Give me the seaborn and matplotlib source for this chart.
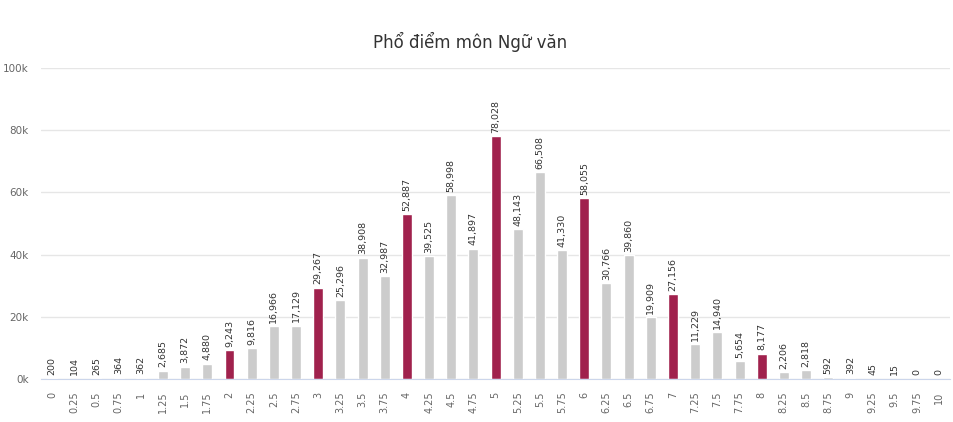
import numpy as np
import pandas as pd
import matplotlib
matplotlib.use("Agg")
import matplotlib.pyplot as plt
import seaborn as sns
from matplotlib.ticker import FuncFormatter

# score buckets and number of candidates
scores = ["0", "0.25", "0.5", "0.75", "1", "1.25", "1.5", "1.75", "2", "2.25",
          "2.5", "2.75", "3", "3.25", "3.5", "3.75", "4", "4.25", "4.5", "4.75",
          "5", "5.25", "5.5", "5.75", "6", "6.25", "6.5", "6.75", "7", "7.25",
          "7.5", "7.75", "8", "8.25", "8.5", "8.75", "9", "9.25", "9.5", "9.75", "10"]
counts = [200, 104, 265, 364, 362, 2685, 3872, 4880, 9243, 9816,
          16966, 17129, 29267, 25296, 38908, 32987, 52887, 39525, 58998, 41897,
          78028, 48143, 66508, 41330, 58055, 30766, 39860, 19909, 27156, 11229,
          14940, 5654, 8177, 2206, 2818, 592, 392, 45, 15, 0, 0]
highlight = ["2", "3", "4", "5", "6", "7", "8"]

df = pd.DataFrame({"score": scores, "count": counts})
colors = ["#a0214d" if s in highlight else "#cccccc" for s in scores]

sns.set_style("white")
plt.rcParams["font.family"] = ["DejaVu Sans"]

fig = plt.figure(figsize=(9.54, 4.22), dpi=100)
ax = fig.add_axes([0.043, 0.102, 0.953, 0.737])

sns.barplot(data=df, x="score", y="count", hue="score", palette=colors,
            legend=False, width=0.45, saturation=1, ax=ax)

# data labels above each bar
for i, v in enumerate(counts):
    ax.annotate(f"{v:,}", (i, v), xytext=(0, 2.5), textcoords="offset points",
                rotation=90, ha="center", va="bottom", fontsize=6.8, color="#333333")

ax.set_xlim(-0.5, len(scores) - 0.5)
ax.set_ylim(0, 100000)
ax.set_yticks(np.arange(0, 100001, 20000))
ax.yaxis.set_major_formatter(FuncFormatter(lambda v, p: f"{int(v / 1000)}k"))
ax.grid(axis="y", color="#e6e6e6", linewidth=1)
ax.set_axisbelow(True)

ax.set_xticks(range(len(scores)))
ax.set_xticklabels(scores, rotation=90, fontsize=7, color="#666666")
ax.set_xticks(np.arange(-0.5, len(scores), 1), minor=True)
ax.tick_params(axis="x", which="major", length=0, pad=9)
ax.tick_params(axis="x", which="minor", length=9, color="#ccd6eb", width=1)
ax.tick_params(axis="y", length=0, pad=9, labelsize=7.5, labelcolor="#666666")

for side in ["top", "right", "left"]:
    ax.spines[side].set_visible(False)
ax.spines["bottom"].set_color("#ccd6eb")

ax.set_xlabel("")
ax.set_ylabel("")

fig.text(470 / 954, 0.9, "Phổ điểm môn Ngữ văn", ha="center", va="center",
         fontsize=12, color="#333333")

fig.savefig("out.png", dpi=100)
